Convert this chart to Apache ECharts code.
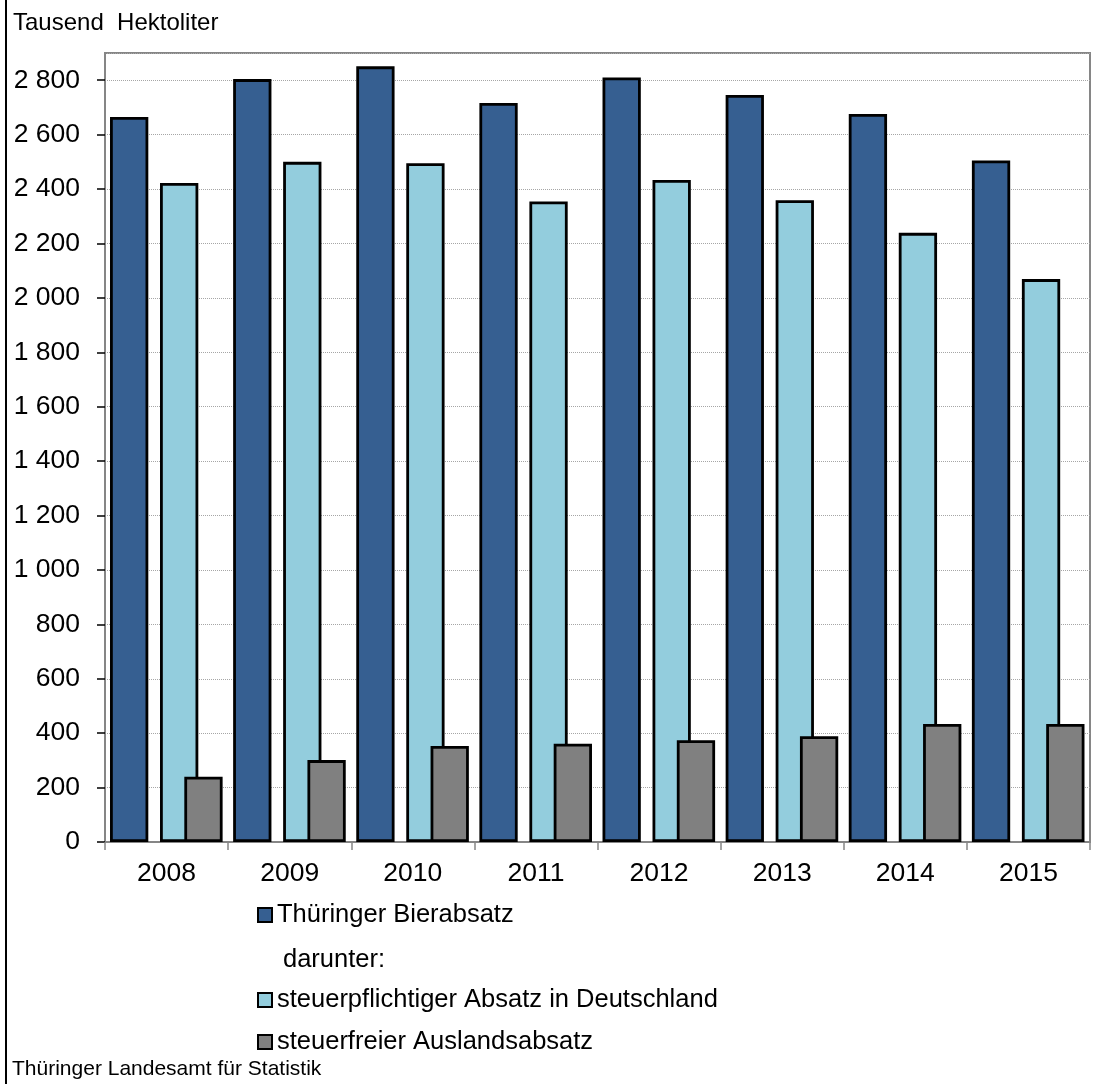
<!DOCTYPE html>
<html>
<head>
<meta charset="utf-8">
<script src="https://cdn.jsdelivr.net/npm/echarts@6/dist/echarts.min.js"></script>
<style>
html,body{margin:0;padding:0;background:#fff;}
#chart{width:1110px;height:1084px;}
</style>
</head>
<body>
<div id="chart"></div>
<script>
const years = ['2008','2009','2010','2011','2012','2013','2014','2015'];
const bierabsatz = [2665, 2804, 2851, 2716, 2810, 2746, 2676, 2505];
const inland = [2422, 2500, 2495, 2354, 2433, 2359, 2239, 2069];
const ausland = [240, 301, 353, 361, 374, 389, 434, 434];
const yTicks = [0, 200, 400, 600, 800, 1000, 1200, 1400, 1600, 1800, 2000, 2200, 2400, 2600, 2800];
const seriesNames = ['Thüringer Bierabsatz', 'steuerpflichtiger Absatz in Deutschland', 'steuerfreier Auslandsabsatz'];
const unitText = 'Tausend  Hektoliter';
const subLabel = 'darunter:';
const sourceText = 'Thüringer Landesamt für Statistik';

const FONT = '"Liberation Sans", Arial, sans-serif';
const ghost = years.map(() => '-');
const barStyle = (c) => ({ color: c, borderColor: '#000', borderWidth: 2.8 });

function fmt(v) {
  if (v >= 1000) return Math.floor(v / 1000) + ' ' + String(v % 1000).padStart(3, '0');
  return String(v);
}

const chart = echarts.init(document.getElementById('chart'));
chart.setOption({
  backgroundColor: '#fff',
  animation: false,
  grid: { left: 105, top: 53, right: 20, bottom: 242, show: true, borderColor: '#868686', borderWidth: 2, backgroundColor: 'transparent' },
  xAxis: [
    {
      type: 'category', data: years, gridIndex: 0,
      axisLine: { lineStyle: { color: '#868686', width: 2 } },
      axisTick: { show: true, interval: 0, length: 8, lineStyle: { color: '#868686', width: 1.5 } },
      axisLabel: { fontSize: 26.5, fontFamily: FONT, color: '#000', margin: 18, interval: 0 }
    },
    { type: 'category', data: years, gridIndex: 0, show: false }
  ],
  yAxis: {
    type: 'value', min: 0, max: 2900, interval: 200,
    axisLine: { show: true, lineStyle: { color: '#868686', width: 2 } },
    axisTick: { show: true, length: 8, lineStyle: { color: '#000', width: 1.5 } },
    axisLabel: { fontSize: 26.5, fontFamily: FONT, color: '#000', margin: 25, showMaxLabel: false,
      formatter: (v) => (yTicks.indexOf(v) >= 0 ? fmt(v) : '') },
    splitLine: { show: true, lineStyle: { color: '#a6a6a6', type: 'dotted', width: 1 } }
  },
  legend: [
    {
      data: [seriesNames[0]], orient: 'vertical', left: 257, top: 900, padding: 0,
      itemWidth: 14, itemHeight: 14, icon: 'rect',
      itemStyle: { borderColor: '#000', borderWidth: 2 },
      textStyle: { fontSize: 25.5, fontFamily: FONT, color: '#000', lineHeight: 30 },
      selectedMode: false
    },
    {
      data: [seriesNames[1], seriesNames[2]], orient: 'vertical', left: 257, top: 985, padding: 0,
      itemGap: 12, itemWidth: 14, itemHeight: 14, icon: 'rect',
      itemStyle: { borderColor: '#000', borderWidth: 2 },
      textStyle: { fontSize: 25.5, fontFamily: FONT, color: '#000', lineHeight: 30 },
      selectedMode: false
    }
  ],
  graphic: [
    { type: 'line', shape: { x1: 6, y1: 0, x2: 6, y2: 1084 }, style: { stroke: '#000', lineWidth: 2 } },
    { type: 'text', x: 13, y: 23, style: { text: unitText, font: '24px ' + FONT, fill: '#000', textVerticalAlign: 'middle', verticalAlign: 'middle' } },
    { type: 'text', x: 283, y: 960, style: { text: subLabel, font: '25.5px ' + FONT, fill: '#000', textVerticalAlign: 'middle', verticalAlign: 'middle' } },
    { type: 'text', x: 12, y: 1069, style: { text: sourceText, font: '21px ' + FONT, fill: '#000', textVerticalAlign: 'middle', verticalAlign: 'middle' } }
  ],
  series: [
    { name: seriesNames[0], type: 'bar', xAxisIndex: 0, data: bierabsatz, barWidth: 38.3, barGap: '30.55%', itemStyle: barStyle('#365F91') },
    { name: seriesNames[1], type: 'bar', xAxisIndex: 0, data: inland, barWidth: 38.3, barGap: '30.55%', itemStyle: barStyle('#93CDDD') },
    { name: '_g1', type: 'bar', xAxisIndex: 0, data: ghost, barWidth: 13.1, barGap: '30.55%', itemStyle: { color: 'transparent' } },
    { name: '_g2', type: 'bar', xAxisIndex: 1, data: ghost, barWidth: 73.8, barGap: '0%', itemStyle: { color: 'transparent' } },
    { name: seriesNames[2], type: 'bar', xAxisIndex: 1, data: ausland, barWidth: 38.3, barGap: '0%', itemStyle: barStyle('#808080'), z: 3 }
  ]
});
</script>
</body>
</html>
